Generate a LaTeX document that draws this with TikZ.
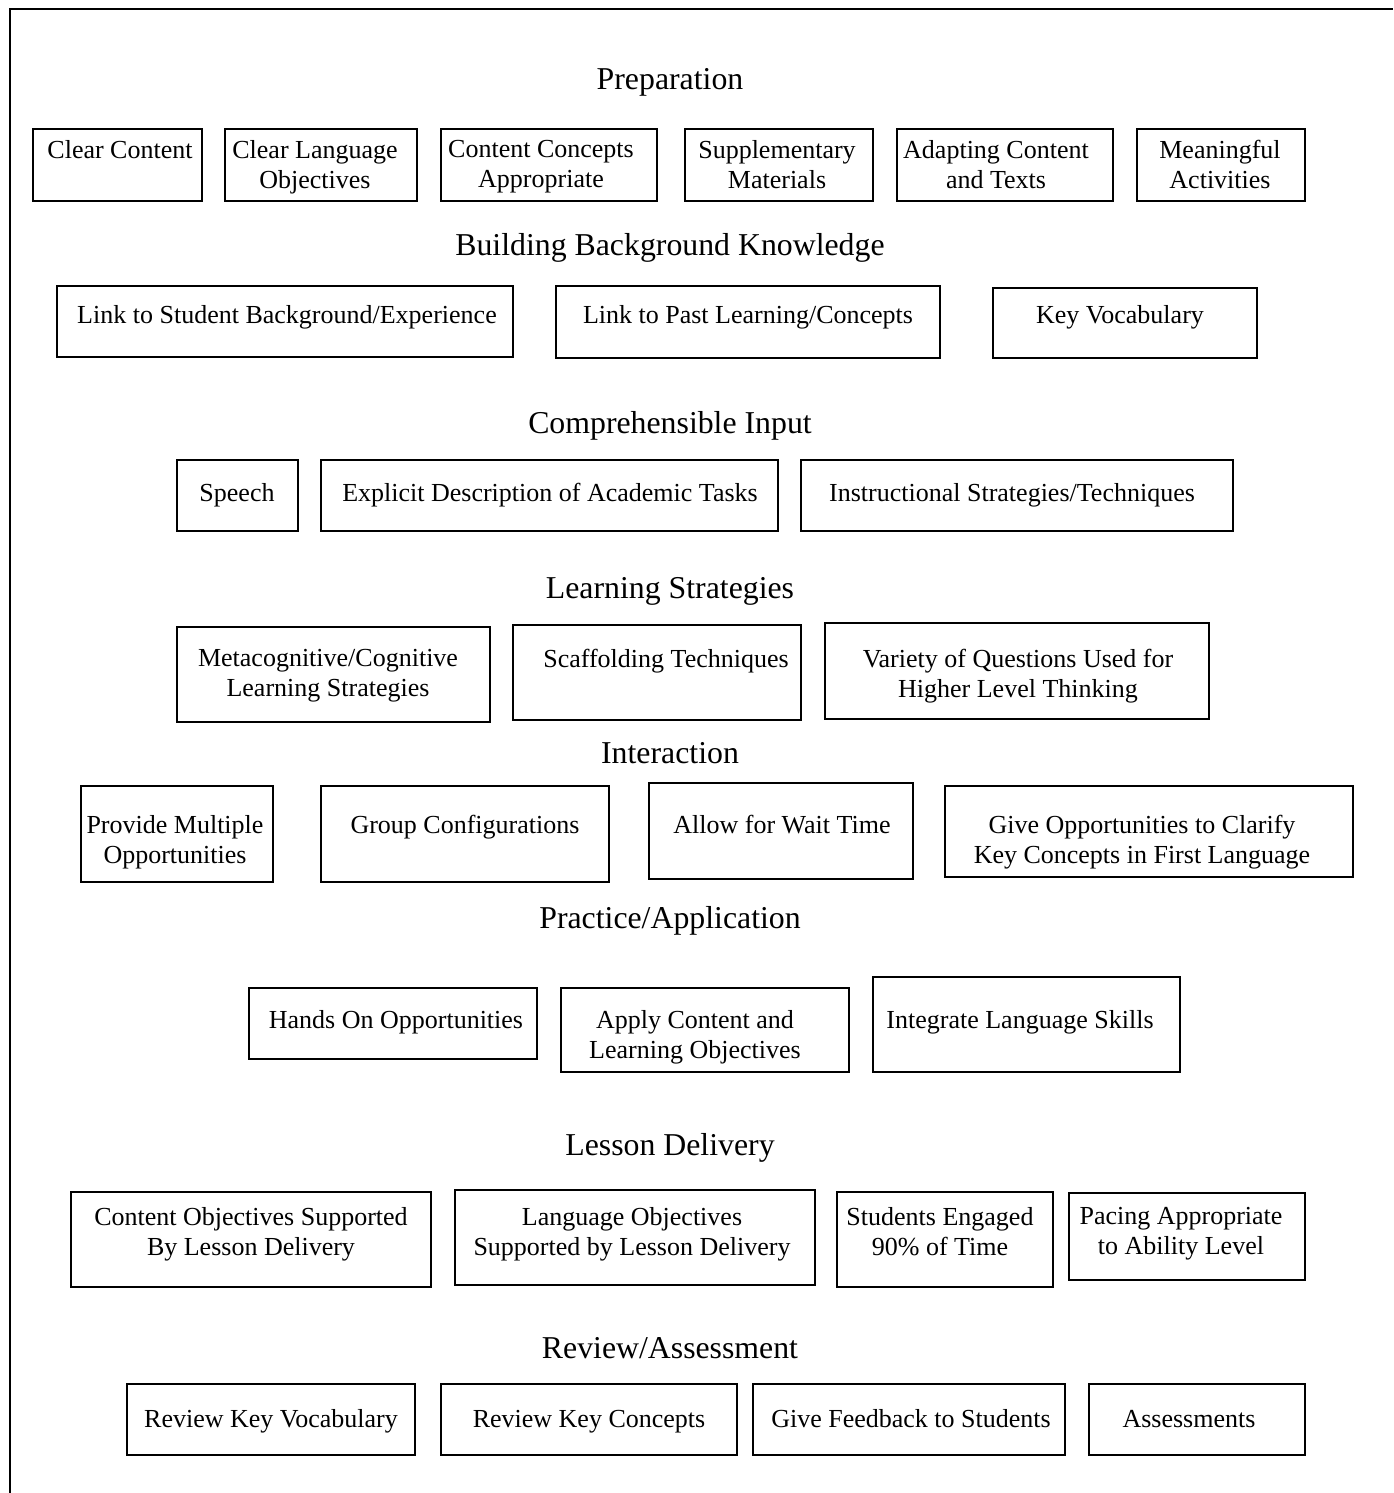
\documentclass[tikz,border=0pt]{standalone}
\usepackage{fontspec}
\setmainfont{Liberation Serif}
\usetikzlibrary{fit}
\newcommand{\itemfont}{\fontsize{13}{15}\selectfont}
\newcommand{\headfont}{\fontsize{15.9}{19}\selectfont}

\begin{document}
\begin{tikzpicture}[x=0.5pt, y=-0.5pt, item box/.style={draw, line width=1pt, inner sep=0pt}, item text/.style={inner sep=0pt, align=center, anchor=north, yshift=10.5pt, font=\itemfont, execute at begin node=\strut}, two lines/.style={yshift=-1.5pt}, heading/.style={inner sep=0pt, anchor=base, font=\headfont}]
\useasboundingbox (0,0) rectangle (1393,1493);

% frame
\draw[line width=1pt] (10,1493) |- (1393,9);

% preparation
\node[heading] (h1) at (670,90) {Preparation};
\node[item box, fit={(33,129) (202,201)}] (prep1) {};
\node[item text] (prep1t) at (120,158) {Clear Content};
\node[item box, fit={(225,129) (417,201)}] (prep2) {};
\node[item text, two lines] (prep2t) at (315,158) {Clear Language\\Objectives};
\node[item box, fit={(441,129) (657,201)}] (prep3) {};
\node[item text, two lines] (prep3t) at (541,158) {Content Concepts\\Appropriate};
\node[item box, fit={(685,129) (873,201)}] (prep4) {};
\node[item text, two lines] (prep4t) at (777,158) {Supplementary\\Materials};
\node[item box, fit={(897,129) (1113,201)}] (prep5) {};
\node[item text, two lines] (prep5t) at (996,158) {Adapting Content\\and Texts};
\node[item box, fit={(1137,129) (1305,201)}] (prep6) {};
\node[item text, two lines] (prep6t) at (1220,158) {Meaningful\\Activities};

% building background
\node[heading] (h2) at (670,255) {Building Background Knowledge};
\node[item box, fit={(57,286) (513,357)}] (bgk1) {};
\node[item text] (bgk1t) at (287,323) {Link to Student Background/Experience};
\node[item box, fit={(556,286) (940,358)}] (bgk2) {};
\node[item text] (bgk2t) at (748,323) {Link to Past Learning/Concepts};
\node[item box, fit={(993,288) (1257,358)}] (bgk3) {};
\node[item text] (bgk3t) at (1120,323) {Key Vocabulary};

% comprehensible input
\node[heading] (h3) at (670,433) {Comprehensible Input};
\node[item box, fit={(177,460) (298,531)}] (input1) {};
\node[item text] (input1t) at (237,501) {Speech};
\node[item box, fit={(321,460) (778,531)}] (input2) {};
\node[item text] (input2t) at (550,501) {Explicit Description of Academic Tasks};
\node[item box, fit={(801,460) (1233,531)}] (input3) {};
\node[item text] (input3t) at (1012,501) {Instructional Strategies/Techniques};

% learning strategies
\node[heading] (h4) at (670,598) {Learning Strategies};
\node[item box, fit={(177,627) (490,722)}] (strat1) {};
\node[item text, two lines] (strat1t) at (328,667) {Metacognitive/Cognitive\\Learning Strategies};
\node[item box, fit={(513,625) (801,720)}] (strat2) {};
\node[item text] (strat2t) at (666,667) {Scaffolding Techniques};
\node[item box, fit={(825,623) (1209,719)}] (strat3) {};
\node[item text, two lines] (strat3t) at (1018,667) {Variety of Questions Used for\\Higher Level Thinking};

% interaction
\node[heading] (h5) at (670,763) {Interaction};
\node[item box, fit={(81,786) (273,882)}] (inter1) {};
\node[item text, two lines] (inter1t) at (175,833) {Provide Multiple\\Opportunities};
\node[item box, fit={(321,786) (609,882)}] (inter2) {};
\node[item text] (inter2t) at (465,833) {Group Configurations};
\node[item box, fit={(649,783) (913,879)}] (inter3) {};
\node[item text] (inter3t) at (782,833) {Allow for Wait Time};
\node[item box, fit={(945,786) (1353,877)}] (inter4) {};
\node[item text, two lines] (inter4t) at (1142,833) {Give Opportunities to Clarify\\Key Concepts in First Language};

% practice
\node[heading] (h6) at (670,928) {Practice/Application};
\node[item box, fit={(249,988) (537,1059)}] (prac1) {};
\node[item text] (prac1t) at (396,1028) {Hands On Opportunities};
\node[item box, fit={(561,988) (849,1072)}] (prac2) {};
\node[item text, two lines] (prac2t) at (695,1028) {Apply Content and\\Learning Objectives};
\node[item box, fit={(873,977) (1180,1072)}] (prac3) {};
\node[item text] (prac3t) at (1020,1028) {Integrate Language Skills};

% lesson delivery
\node[heading] (h7) at (670,1155) {Lesson Delivery};
\node[item box, fit={(71,1192) (431,1287)}] (deliv1) {};
\node[item text, two lines] (deliv1t) at (251,1225) {Content Objectives Supported\\By Lesson Delivery};
\node[item box, fit={(455,1190) (815,1285)}] (deliv2) {};
\node[item text, two lines] (deliv2t) at (632,1225) {Language Objectives\\Supported by Lesson Delivery};
\node[item box, fit={(837,1192) (1053,1287)}] (deliv3) {};
\node[item text, two lines] (deliv3t) at (940,1225) {Students Engaged\\90\% of Time};
\node[item box, fit={(1069,1193) (1305,1280)}] (deliv4) {};
\node[item text, two lines] (deliv4t) at (1181,1225) {Pacing Appropriate\\to Ability Level};

% review
\node[heading] (h8) at (670,1358) {Review/Assessment};
\node[item box, fit={(127,1384) (415,1455)}] (rev1) {};
\node[item text] (rev1t) at (271,1427) {Review Key Vocabulary};
\node[item box, fit={(441,1384) (737,1455)}] (rev2) {};
\node[item text] (rev2t) at (589,1427) {Review Key Concepts};
\node[item box, fit={(753,1384) (1065,1455)}] (rev3) {};
\node[item text] (rev3t) at (911,1427) {Give Feedback to Students};
\node[item box, fit={(1089,1384) (1305,1455)}] (rev4) {};
\node[item text] (rev4t) at (1189,1427) {Assessments};

\end{tikzpicture}
\end{document}
